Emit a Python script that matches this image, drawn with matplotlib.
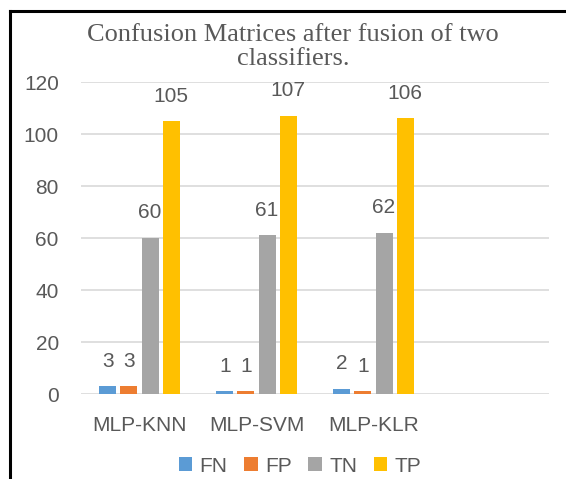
import matplotlib
matplotlib.use('Agg')
import matplotlib.pyplot as plt
from matplotlib.lines import Line2D
import numpy as np

categories = ["MLP-KNN", "MLP-SVM", "MLP-KLR"]
series_names = ["FN", "FP", "TN", "TP"]
fn = [3, 1, 2]
fp = [3, 1, 1]
tn = [60, 61, 62]
tp = [105, 107, 106]
colors = ["#5b9bd5", "#ed7d31", "#a5a5a5", "#ffc000"]
y_ticks = [0, 20, 40, 60, 80, 100, 120]

text_gray = "#595959"
plt.rcParams['font.family'] = ['Liberation Sans', 'DejaVu Sans']

fig = plt.figure(figsize=(5.66, 4.79), dpi=100)
ax = fig.add_axes([81 / 566, 85 / 479, 468 / 566, 312 / 479])

x = np.arange(len(categories))
width = 0.145
step = 0.18
for i, (name, vals) in enumerate(zip(series_names, [fn, fp, tn, tp])):
    pos = x + (i - 1.5) * step
    bars = ax.bar(pos, vals, width, color=colors[i], label=name, zorder=3)
    for b, v in zip(bars, vals):
        ax.annotate(str(v), (b.get_x() + b.get_width() / 2, v),
                    xytext=(0, 18), textcoords="offset points",
                    ha="center", va="center", fontsize=15, color=text_gray)

ax.set_xlim(-0.5, 3.5)
ax.set_ylim(0, 120)
ax.set_yticks(y_ticks)
ax.set_xticks(x)
ax.set_xticklabels(categories)
ax.grid(axis="y", color="#d9d9d9", linewidth=1.2, zorder=0)
for s in ax.spines.values():
    s.set_visible(False)
ax.tick_params(axis="y", length=0, pad=16, labelsize=15, labelcolor=text_gray)
ax.tick_params(axis="x", length=0, pad=16, labelsize=15, labelcolor=text_gray)

fig.text(293 / 566, 0.902, "Confusion Matrices after fusion of two\nclassifiers.",
         ha="center", va="center", fontsize=19, color=text_gray,
         family=["Liberation Serif", "DejaVu Serif"], linespacing=1.15)

fig.legend(loc="center", bbox_to_anchor=(300 / 566, 13 / 479), ncol=4,
           frameon=False, fontsize=15, handlelength=0.65, handleheight=0.65,
           handletextpad=0.35, columnspacing=0.8, labelcolor=text_gray)

# black frame on the left and top edges
fig.add_artist(Line2D([10 / 566, 10 / 566], [0, 1 - 11 / 479], color="black",
                      linewidth=2.2, transform=fig.transFigure))
fig.add_artist(Line2D([10 / 566, 1], [1 - 11 / 479, 1 - 11 / 479], color="black",
                      linewidth=2.2, transform=fig.transFigure))

fig.savefig("out.png", dpi=100)
